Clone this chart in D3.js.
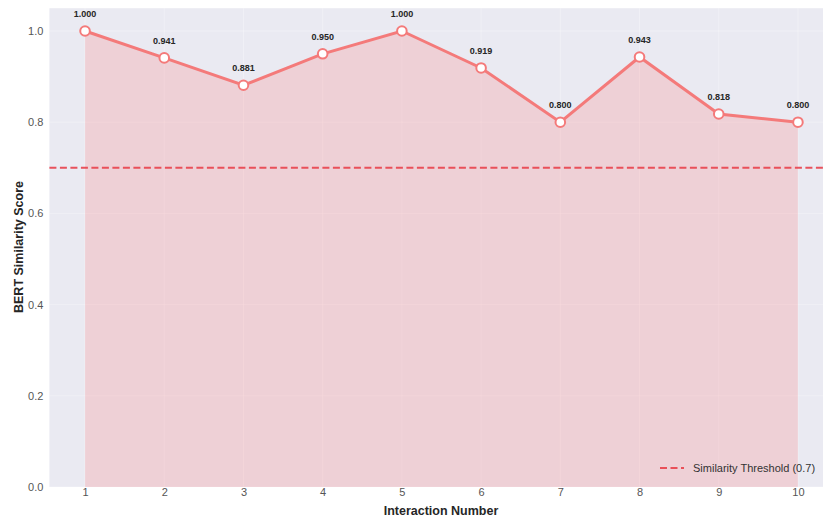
<!DOCTYPE html>
<html><head><meta charset="utf-8">
<script src="https://cdn.jsdelivr.net/npm/d3@7"></script>
<style>body{margin:0;background:#fff}svg{display:block;font-family:"Liberation Sans",Arial,sans-serif}</style>
</head><body><svg id="c" width="823" height="518"></svg>
<script>
const interactions = [1,2,3,4,5,6,7,8,9,10];
const scores = [1.000,0.941,0.881,0.950,1.000,0.919,0.800,0.943,0.818,0.800];
const yTicks = [0.0,0.2,0.4,0.6,0.8,1.0];
const threshold = 0.7;
const thresholdLabel = "Similarity Threshold (0.7)";

const svg = d3.select("#c");
const L=49.4, R=833.6, T=8.2, B=487;
const x = d3.scaleLinear().domain([0.55,10.45]).range([L,R]);
const y = d3.scaleLinear().domain([0,1.05]).range([B,T]);

svg.append("rect").attr("x",L).attr("y",T).attr("width",R-L).attr("height",B-T).attr("fill","#eaeaf2");
const g = svg.append("g");
// grid
g.selectAll(".gy").data(yTicks).enter().append("line")
 .attr("x1",L).attr("x2",R).attr("y1",d=>y(d)).attr("y2",d=>y(d))
 .attr("stroke","#fff").attr("stroke-opacity",0.3).attr("stroke-width",1);
g.selectAll(".gx").data(interactions).enter().append("line")
 .attr("y1",T).attr("y2",B).attr("x1",d=>x(d)).attr("x2",d=>x(d))
 .attr("stroke","#fff").attr("stroke-opacity",0.3).attr("stroke-width",1);

const data = interactions.map((d,i)=>({x:d,y:scores[i]}));
g.append("path").datum(data)
 .attr("d",d3.area().x(d=>x(d.x)).y0(y(0)).y1(d=>y(d.y)))
 .attr("fill","#ff6b6b").attr("fill-opacity",0.2);

g.append("line").attr("x1",L).attr("x2",R).attr("y1",y(threshold)).attr("y2",y(threshold))
 .attr("stroke","#e8414b").attr("stroke-width",2).attr("stroke-dasharray","7,3.5").attr("stroke-opacity",0.9);

g.append("path").datum(data)
 .attr("d",d3.line().x(d=>x(d.x)).y(d=>y(d.y)))
 .attr("fill","none").attr("stroke","#f47a7a").attr("stroke-width",3);

g.selectAll(".pt").data(data).enter().append("circle")
 .attr("cx",d=>x(d.x)).attr("cy",d=>y(d.y)).attr("r",4.8)
 .attr("fill","#fff").attr("stroke","#f47a7a").attr("stroke-width",2);

g.selectAll(".lb").data(data).enter().append("text")
 .attr("x",d=>x(d.x)).attr("y",d=>y(d.y)-14)
 .attr("text-anchor","middle").attr("font-size",9).attr("font-weight","bold").attr("fill","#262626")
 .text(d=>d.y.toFixed(3));

// axes
const xa = svg.append("g").attr("transform",`translate(0,${B})`)
 .call(d3.axisBottom(x).tickValues(interactions).tickFormat(d3.format("d")).tickSize(0).tickPadding(1));
xa.select(".domain").remove();
xa.selectAll("text").attr("font-size",11).attr("fill","#555").attr("font-family","Liberation Sans, Arial, sans-serif");
const ya = svg.append("g").attr("transform",`translate(${L},0)`)
 .call(d3.axisLeft(y).tickValues(yTicks).tickFormat(d3.format(".1f")).tickSize(0).tickPadding(6));
ya.select(".domain").remove();
ya.selectAll("text").attr("font-size",11).attr("fill","#555").attr("font-family","Liberation Sans, Arial, sans-serif");

svg.append("text").attr("x",441).attr("y",515).attr("text-anchor","middle")
 .attr("font-size",12.5).attr("font-weight","bold").attr("fill","#262626").text("Interaction Number");
svg.append("text").attr("transform","translate(23,247) rotate(-90)").attr("text-anchor","middle")
 .attr("font-size",12.5).attr("font-weight","bold").attr("fill","#262626").text("BERT Similarity Score");

// legend
const lg = svg.append("g");
lg.append("line").attr("x1",660).attr("x2",684).attr("y1",468).attr("y2",468)
 .attr("stroke","#e8414b").attr("stroke-width",2).attr("stroke-dasharray","7,3.5").attr("stroke-opacity",0.9);
lg.append("text").attr("x",693).attr("y",472).attr("font-size",11).attr("fill","#333").text(thresholdLabel);
</script></body></html>
